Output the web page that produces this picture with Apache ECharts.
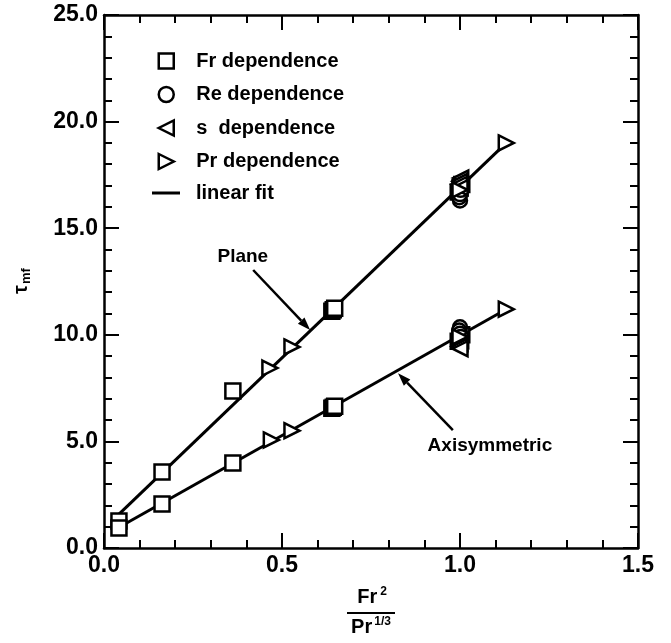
<!DOCTYPE html>
<html>
<head>
<meta charset="utf-8">
<script src="https://cdn.jsdelivr.net/npm/echarts@6/dist/echarts.min.js"></script>
<style>
    html, body { margin: 0; background: #fff; }
    #chart { width: 671px; height: 643px; }
</style>
</head>
<body>
<div id="chart"></div>
<script>
    // data: [Fr^2/Pr^(1/3), tau_mf]
    const frPlane = [[0.042, 1.27], [0.163, 3.56], [0.362, 7.36], [0.64, 11.1], [0.644, 11.18], [0.648, 11.25],
        [0.995, 16.7], [1.0, 16.9], [1.005, 17.05]];
    const frAxi = [[0.042, 0.94], [0.163, 2.06], [0.362, 3.99], [0.64, 6.55], [0.644, 6.6], [0.648, 6.65],
        [0.995, 9.7], [1.0, 9.85], [1.005, 10.0]];
    const rePlane = [[1.0, 16.3], [0.998, 16.45], [1.0, 16.6], [1.002, 16.8]];
    const reAxi = [[1.0, 10.35], [0.998, 10.2], [1.0, 10.05], [1.002, 9.9]];
    const sPlane = [[1.002, 17.35], [1.0, 17.2], [0.998, 17.05], [1.0, 16.9]];
    const sAxi = [[1.002, 9.75], [1.0, 9.6], [0.998, 9.45], [1.0, 9.35]];
    const prPlane = [[0.466, 8.44], [0.528, 9.43], [1.0, 16.8], [1.13, 19.0]];
    const prAxi = [[0.47, 5.07], [0.528, 5.5], [1.0, 9.9], [1.13, 11.2]];
    const fitPlane = [[0.04, 1.55], [1.13, 19.0]];
    const fitAxi = [[0.04, 0.95], [1.13, 11.2]];

    const xTicks = { min: 0, max: 1.5, interval: 0.5 };
    const yTicks = { min: 0, max: 25, interval: 5 };
    const legendNames = ['Fr dependence', 'Re dependence', 's  dependence', 'Pr dependence'];

    // annotation anchors (data coords): text, arrow tail, arrow tip
    const planeNote = { text: 'Plane', at: [0.39, 13.65], from: [0.419, 13.04], to: [0.579, 10.22] };
    const axiNote = { text: 'Axisymmetric', at: [1.084, 4.78], from: [0.98, 5.53], to: [0.826, 8.2] };

    const FONT = '"Liberation Sans", Arial, sans-serif';
    const LEFT_TRI = 'path://M10,0 L10,10 L0,5 Z';
    const RIGHT_TRI = 'path://M0,0 L10,5 L0,10 Z';
    const myChart = echarts.init(document.getElementById('chart'));

    function axisCommon(pos, showLabel, t) {
        return {
            type: 'value',
            position: pos,
            min: t.min, max: t.max, interval: t.interval,
            axisLine: { show: true, onZero: false, lineStyle: { color: '#000', width: 2.5 } },
            axisTick: { show: true, inside: true, length: 15, lineStyle: { color: '#000', width: 2 } },
            minorTick: { show: true, splitNumber: 5, length: 8, lineStyle: { color: '#000', width: 2 } },
            splitLine: { show: false },
            axisLabel: {
                show: showLabel, color: '#000', fontSize: 23, fontWeight: 'bold', fontFamily: FONT, margin: 6,
                formatter: v => v.toFixed(1)
            }
        };
    }

    function scatter(name, data, symbol) {
        return {
            name: name, type: 'scatter', data: data,
            symbol: symbol, symbolSize: symbol === 'circle' ? 14 : 15,
            itemStyle: { color: '#fff', borderColor: '#000', borderWidth: 2.5, opacity: 1 },
            z: 5, silent: true
        };
    }

    function fit(data) {
        return {
            name: 'linear fit', type: 'line', data: data, symbol: 'none',
            lineStyle: { color: '#000', width: 3 }, itemStyle: { color: '#000' },
            z: 3, silent: true
        };
    }

    const legendText = { color: '#000', fontSize: 20, fontWeight: 'bold', fontFamily: FONT };

    myChart.setOption({
        animation: false,
        grid: { left: 104, right: 33, top: 15, bottom: 95 },
        xAxis: [axisCommon('bottom', true, xTicks), axisCommon('top', false, xTicks)],
        yAxis: [axisCommon('left', true, yTicks), axisCommon('right', false, yTicks)],
        legend: [
            {
                orient: 'vertical', left: 152.5, top: 46,
                itemWidth: 15, itemHeight: 15, itemGap: 13.5,
                itemStyle: { borderWidth: 2.5, borderColor: '#000', color: '#fff' },
                textStyle: Object.assign({ padding: [0, 0, 0, 17.5] }, legendText),
                data: [
                    { name: legendNames[0], icon: 'rect' },
                    { name: legendNames[1], icon: 'circle' },
                    { name: legendNames[2], icon: LEFT_TRI },
                    { name: legendNames[3], icon: RIGHT_TRI }
                ],
                selectedMode: false
            },
            {
                orient: 'vertical', left: 147, top: 178,
                itemWidth: 28, itemHeight: 3,
                itemStyle: { color: '#000', borderWidth: 0 },
                textStyle: Object.assign({ padding: [0, 0, 0, 11] }, legendText),
                data: [{ name: 'linear fit', icon: 'rect' }],
                selectedMode: false
            }
        ],
        series: [
            fit(fitPlane), fit(fitAxi),
            scatter(legendNames[0], frPlane, 'rect'),
            scatter(legendNames[0], frAxi, 'rect'),
            scatter(legendNames[1], rePlane, 'circle'),
            scatter(legendNames[1], reAxi, 'circle'),
            scatter(legendNames[2], sPlane, LEFT_TRI),
            scatter(legendNames[2], sAxi, LEFT_TRI),
            scatter(legendNames[3], prPlane, RIGHT_TRI),
            scatter(legendNames[3], prAxi, RIGHT_TRI)
        ]
    });

    // annotations, axis titles
    function px(p) { return myChart.convertToPixel({ gridIndex: 0 }, p); }
    function arrow(note) {
        const a = px(note.from), b = px(note.to);
        const ang = Math.atan2(b[1] - a[1], b[0] - a[0]);
        const L = 13, W = 4.5;
        const bx = b[0] - L * Math.cos(ang), by = b[1] - L * Math.sin(ang);
        const nx = -Math.sin(ang) * W, ny = Math.cos(ang) * W;
        return [
            { type: 'line', shape: { x1: a[0], y1: a[1], x2: bx, y2: by }, style: { stroke: '#000', lineWidth: 2.5 } },
            { type: 'polygon', shape: { points: [[b[0], b[1]], [bx + nx, by + ny], [bx - nx, by - ny]] }, style: { fill: '#000' } }
        ];
    }
    function note(n) {
        const p = px(n.at);
        return { type: 'text', x: p[0], y: p[1], style: { text: n.text, font: 'bold 19px ' + FONT, fill: '#000', align: 'center', verticalAlign: 'middle' } };
    }

    myChart.setOption({
        graphic: [
            note(planeNote), note(axiNote),
            ...arrow(planeNote), ...arrow(axiNote),
            {
                type: 'text', x: 21, y: 281, rotation: Math.PI / 2,
                style: {
                    text: '{t|τ}{s|mf}', align: 'center', verticalAlign: 'middle', fill: '#000',
                    rich: {
                        t: { fontSize: 20, fontWeight: 'bold', fontFamily: FONT, fill: '#000' },
                        s: { fontSize: 13, fontWeight: 'bold', fontFamily: FONT, fill: '#000', padding: [10, 0, 0, 1] }
                    }
                }
            },
            {
                type: 'text', x: 372, y: 597,
                style: {
                    text: '{b|Fr}{p|2}', align: 'center', verticalAlign: 'middle', fill: '#000',
                    rich: {
                        b: { fontSize: 20, fontWeight: 'bold', fontFamily: FONT, fill: '#000' },
                        p: { fontSize: 12, fontWeight: 'bold', fontFamily: FONT, fill: '#000', padding: [0, 0, 10, 3] }
                    }
                }
            },
            { type: 'line', shape: { x1: 347, y1: 613, x2: 395, y2: 613 }, style: { stroke: '#000', lineWidth: 2 } },
            {
                type: 'text', x: 371, y: 627,
                style: {
                    text: '{b|Pr}{p|1/3}', align: 'center', verticalAlign: 'middle', fill: '#000',
                    rich: {
                        b: { fontSize: 20, fontWeight: 'bold', fontFamily: FONT, fill: '#000' },
                        p: { fontSize: 12, fontWeight: 'bold', fontFamily: FONT, fill: '#000', padding: [0, 0, 10, 2] }
                    }
                }
            }
        ]
    });
</script>
</body>
</html>
